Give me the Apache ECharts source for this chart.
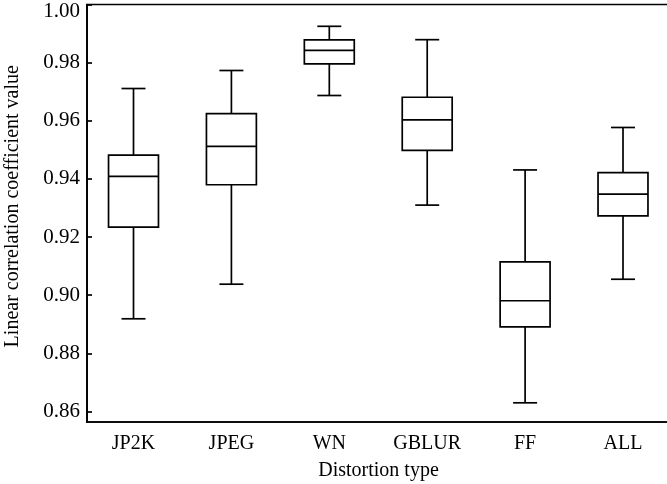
<!DOCTYPE html>
<html>
<head>
<meta charset="utf-8">
<script src="https://cdn.jsdelivr.net/npm/echarts@6/dist/echarts.min.js"></script>
<style>html,body{margin:0;padding:0;background:#fff}#c{width:667px;height:484px}</style>
</head>
<body>
<div id="c"></div>
<script>
var categories = ['JP2K', 'JPEG', 'WN', 'GBLUR', 'FF', 'ALL'];
var lowerWhisker = [0.8919, 0.9038, 0.9687, 0.9310, 0.8630, 0.9055];
var q1 = [0.9234, 0.9380, 0.9796, 0.9498, 0.8891, 0.9273];
var median = [0.9409, 0.9512, 0.9842, 0.9603, 0.8981, 0.9348];
var q3 = [0.9482, 0.9625, 0.9878, 0.9681, 0.9115, 0.9422];
var upperWhisker = [0.9711, 0.9773, 0.9925, 0.9879, 0.9431, 0.9577];
var yTicks = [0.86, 0.88, 0.90, 0.92, 0.94, 0.96, 0.98, 1.00];
var xTicks = [0, 1, 2, 3, 4, 5];

var data = categories.map(function (c, i) {
  return [i, lowerWhisker[i], q1[i], median[i], q3[i], upperWhisker[i]];
});

var chart = echarts.init(document.getElementById('c'), null, {renderer: 'canvas'});
var font = 'Liberation Serif';
var lw = 1.7;
chart.setOption({
  animation: false,
  backgroundColor: '#fff',
  grid: {left: 87, top: 4.5, right: -3, bottom: 62, show: true, borderColor: '#000', borderWidth: lw,
    outerBoundsMode: 'none', containLabel: false},
  xAxis: {
    type: 'value', min: -0.475, max: 5.48,
    name: 'Distortion type', nameLocation: 'middle', nameGap: 39,
    nameTextStyle: {fontFamily: font, fontSize: 20, color: '#000'},
    axisLine: {show: true, onZero: false, lineStyle: {color: '#000', width: lw}},
    axisTick: {show: false},
    splitLine: {show: false},
    axisLabel: {customValues: xTicks, formatter: function (v) { return categories[Math.round(v)]; },
      fontFamily: font, fontSize: 20, color: '#000', margin: 12}
  },
  yAxis: {
    type: 'value', min: 0.8564, max: 1.0,
    name: 'Linear correlation coefficient value', nameLocation: 'middle', nameGap: 64,
    nameTextStyle: {fontFamily: font, fontSize: 20, color: '#000', padding: [0, 0, 0, 14]},
    axisLine: {show: true, onZero: false, lineStyle: {color: '#000', width: lw}},
    axisTick: {show: true, inside: true, length: 5, customValues: yTicks, lineStyle: {color: '#000', width: lw}},
    splitLine: {show: false},
    axisLabel: {customValues: yTicks,
      formatter: function (v) { var s = v.toFixed(2); return v >= 0.999 ? '{t|' + s + '}' : s; },
      rich: {t: {fontFamily: font, fontSize: 21, color: '#000', padding: [13, 0, 0, 0]}},
      fontFamily: font, fontSize: 21, color: '#000', margin: 7}
  },
  series: [{
    type: 'custom',
    data: data,
    encode: {x: 0, y: [1, 2, 3, 4, 5]},
    renderItem: function (params, api) {
      var x = api.value(0);
      var pLow = api.coord([x, api.value(1)]);
      var pQ1 = api.coord([x, api.value(2)]);
      var pMed = api.coord([x, api.value(3)]);
      var pQ3 = api.coord([x, api.value(4)]);
      var pHigh = api.coord([x, api.value(5)]);
      var boxW = api.size([0.51, 0])[0];
      var capW = api.size([0.245, 0])[0];
      var cx = pMed[0];
      var st = {stroke: '#000', lineWidth: lw, fill: null};
      return {
        type: 'group',
        children: [
          {type: 'line', shape: {x1: cx, y1: pHigh[1], x2: cx, y2: pQ3[1]}, style: st},
          {type: 'line', shape: {x1: cx, y1: pLow[1], x2: cx, y2: pQ1[1]}, style: st},
          {type: 'line', shape: {x1: cx - capW / 2, y1: pHigh[1], x2: cx + capW / 2, y2: pHigh[1]}, style: st},
          {type: 'line', shape: {x1: cx - capW / 2, y1: pLow[1], x2: cx + capW / 2, y2: pLow[1]}, style: st},
          {type: 'rect', shape: {x: cx - boxW / 2, y: pQ3[1], width: boxW, height: pQ1[1] - pQ3[1]}, style: {stroke: '#000', lineWidth: lw, fill: '#fff'}},
          {type: 'line', shape: {x1: cx - boxW / 2, y1: pMed[1], x2: cx + boxW / 2, y2: pMed[1]}, style: st}
        ]
      };
    }
  }]
});
</script>
</body>
</html>
